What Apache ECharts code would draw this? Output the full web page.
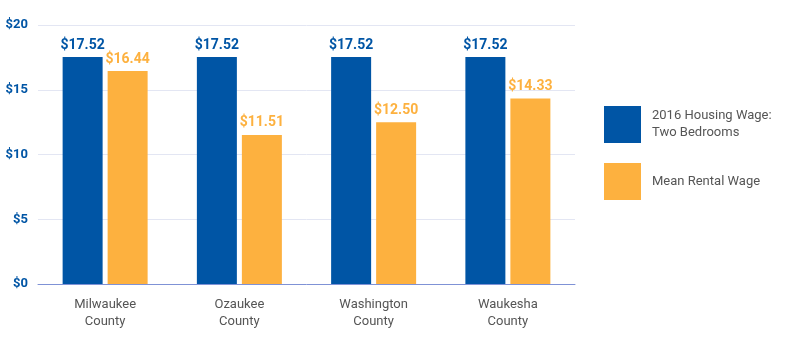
<!DOCTYPE html>
<html>
<head>
<meta charset="utf-8">
<script src="https://cdn.jsdelivr.net/npm/echarts@6/dist/echarts.min.js"></script>
<style>
  html, body { margin: 0; padding: 0; background: #fff; }
  #chart { width: 800px; height: 350px; }
</style>
</head>
<body>
<div id="chart"></div>
<script>
var counties = ['Milwaukee\nCounty', 'Ozaukee\nCounty', 'Washington\nCounty', 'Waukesha\nCounty']
var housingWage = [17.52, 17.52, 17.52, 17.52]
var rentalWage = [16.44, 11.51, 12.50, 14.33]
var yTicks = [0, 5, 10, 15, 20]

var blue = '#0055a5'
var orange = '#fdb13f'

var chart = echarts.init(document.getElementById('chart'))

function valueLabel(color) {
  return {
    show: true,
    position: 'top',
    distance: 5,
    color: color,
    fontFamily: 'Roboto',
    fontWeight: 'bold',
    fontSize: 14,
    formatter: function (p) {
      return '$' + p.value.toFixed(2)
    }
  }
}

chart.setOption({
  animation: false,
  grid: {
    left: 38,
    right: 225,
    top: 25,
    bottom: 66
  },
  legend: {
    orient: 'vertical',
    left: 599,
    top: 101,
    itemWidth: 37,
    itemHeight: 37,
    itemGap: 20,
    icon: 'rect',
    textStyle: {
      color: '#555',
      fontFamily: 'Roboto',
      fontSize: 13,
      lineHeight: 17,
      padding: [0, 0, 0, 6]
    },
    formatter: function (name) {
      return name === 'housing' ? '2016 Housing Wage:\nTwo Bedrooms' : 'Mean Rental Wage'
    },
    data: ['housing', 'rental']
  },
  xAxis: {
    type: 'category',
    data: counties,
    axisTick: { show: false },
    axisLine: { lineStyle: { color: '#7f92d6', width: 1 } },
    axisLabel: {
      margin: 12,
      color: '#555',
      fontFamily: 'Roboto',
      fontSize: 13,
      lineHeight: 17
    }
  },
  yAxis: {
    type: 'value',
    min: yTicks[0],
    max: yTicks[yTicks.length - 1],
    interval: 5,
    axisLine: { show: false },
    axisTick: { show: false },
    splitLine: { lineStyle: { color: '#e3e6f3', width: 1 } },
    axisLabel: {
      margin: 10,
      color: blue,
      fontFamily: 'Roboto',
      fontWeight: 'bold',
      fontSize: 13,
      formatter: function (v) { return '$' + v }
    }
  },
  series: [{
    name: 'housing',
    type: 'bar',
    data: housingWage,
    barWidth: 40,
    barGap: '12.5%',
    itemStyle: { color: blue },
    label: valueLabel(blue)
  }, {
    name: 'rental',
    type: 'bar',
    data: rentalWage,
    barWidth: 40,
    itemStyle: { color: orange },
    label: valueLabel(orange)
  }]
})
</script>
</body>
</html>
